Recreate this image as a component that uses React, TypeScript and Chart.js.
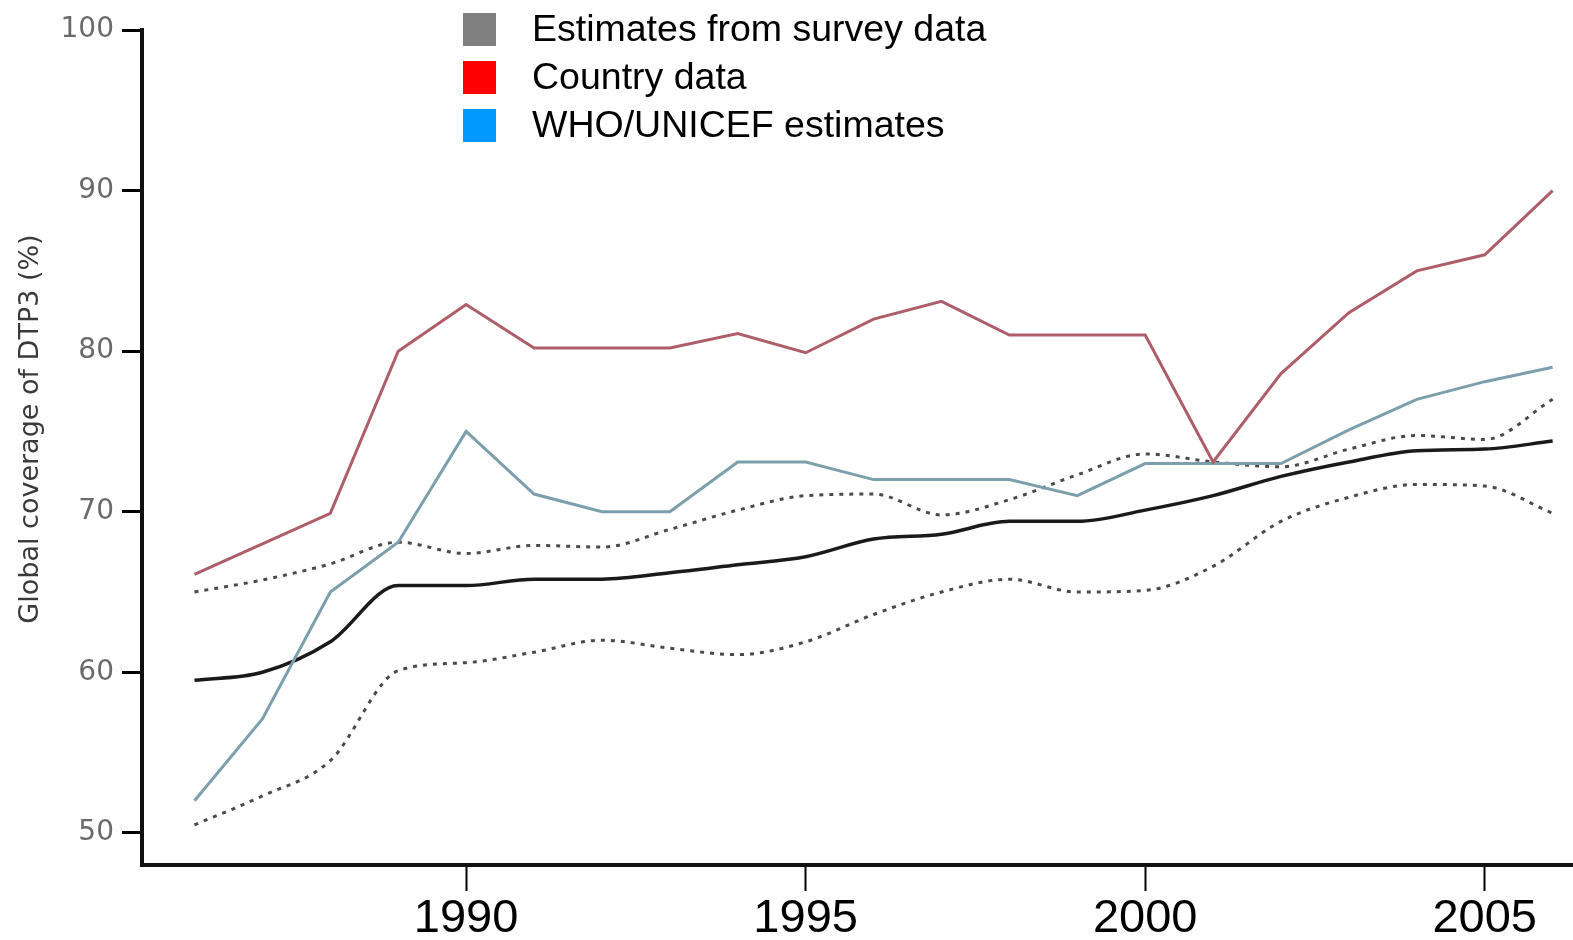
import React, { useEffect, useRef } from "react";
import { Chart, registerables } from "chart.js";

Chart.register(...registerables);

const years = [1986, 1987, 1988, 1989, 1990, 1991, 1992, 1993, 1994, 1995, 1996, 1997, 1998, 1999, 2000, 2001, 2002, 2003, 2004, 2005, 2006];
const countryData = [66.1, 68, 69.9, 80, 82.9, 80.2, 80.2, 80.2, 81.1, 79.9, 82, 83.1, 81, 81, 81, 73.1, 78.6, 82.4, 85, 86, 90];
const whoUnicefEstimates = [52, 57.1, 65, 68.1, 75, 71.1, 70, 70, 73.1, 73.1, 72, 72, 72, 71, 73, 73, 73, 75.1, 77, 78.1, 79];
const surveyEstimates = [59.5, 60, 61.9, 65.4, 65.4, 65.8, 65.8, 66.2, 66.7, 67.2, 68.3, 68.6, 69.4, 69.4, 70.1, 71, 72.2, 73.1, 73.8, 73.9, 74.4];
const surveyUpper = [65, 65.75, 66.75, 68.1, 67.4, 67.9, 67.8, 68.9, 70.1, 71, 71.1, 69.8, 70.75, 72.3, 73.6, 73.1, 72.8, 73.9, 74.75, 74.5, 77];
const surveyLower = [50.5, 52.3, 54.5, 60.1, 60.6, 61.25, 62, 61.5, 61.1, 61.9, 63.6, 65, 65.8, 65, 65.1, 66.6, 69.4, 70.9, 71.7, 71.6, 69.9];
const xTickYears = [1990, 1995, 2000, 2005];
const yTickValues = [50, 60, 70, 80, 90, 100];
const legendLabels = ["Estimates from survey data", "Country data", "WHO/UNICEF estimates"];
const legendColors = ["#808080", "#ff0000", "#0099ff"];
const yAxisTitle = "Global coverage of DTP3 (%)";

const toPoints = (vals: number[]) => vals.map((v, i) => ({ x: years[i], y: v }));

export default function App() {
  const canvasRef = useRef<HTMLCanvasElement | null>(null);

  useEffect(() => {
    document.body.style.margin = "0";
    const canvas = canvasRef.current;
    if (!canvas) return;

    const overlayPlugin = {
      id: "overlay",
      afterDraw(chart: any) {
        const ctx = chart.ctx;
        ctx.save();
        legendLabels.forEach((label, i) => {
          const top = 13 + i * 48;
          ctx.fillStyle = legendColors[i];
          ctx.fillRect(463, top, 33, 33);
          ctx.fillStyle = "#000";
          ctx.font = "37.5px 'Liberation Sans', Arial, sans-serif";
          ctx.textBaseline = "middle";
          ctx.textAlign = "left";
          ctx.fillText(label, 532, top + 18);
        });
        ctx.translate(31, 429);
        ctx.rotate(-Math.PI / 2);
        ctx.fillStyle = "#3a3a3a";
        ctx.font = "27px 'DejaVu Sans', sans-serif";
        ctx.textAlign = "center";
        ctx.textBaseline = "middle";
        ctx.fillText(yAxisTitle, 0, 0);
        ctx.restore();
      },
    };

    const chart = new Chart(canvas, {
      type: "line",
      data: {
        datasets: [
          {
            label: "Country data",
            data: toPoints(countryData),
            borderColor: "#ad5e69",
            borderWidth: 3,
            pointRadius: 0,
            tension: 0,
          },
          {
            label: "WHO/UNICEF estimates",
            data: toPoints(whoUnicefEstimates),
            borderColor: "#7c9fad",
            borderWidth: 3,
            pointRadius: 0,
            tension: 0,
          },
          {
            label: "Survey upper",
            data: toPoints(surveyUpper),
            borderColor: "#4a4a4a",
            borderWidth: 3,
            borderDash: [4, 6],
            pointRadius: 0,
            cubicInterpolationMode: "monotone",
          },
          {
            label: "Survey lower",
            data: toPoints(surveyLower),
            borderColor: "#4a4a4a",
            borderWidth: 3,
            borderDash: [4, 6],
            pointRadius: 0,
            cubicInterpolationMode: "monotone",
          },
          {
            label: "Estimates from survey data",
            data: toPoints(surveyEstimates),
            borderColor: "#1a1a1a",
            borderWidth: 3.5,
            pointRadius: 0,
            cubicInterpolationMode: "monotone",
          },
        ],
      },
      options: {
        animation: false,
        responsive: true,
        maintainAspectRatio: false,
        layout: { padding: { top: 30, right: 0, left: 0, bottom: 0 } },
        plugins: {
          legend: { display: false },
          tooltip: { enabled: false },
        },
        scales: {
          x: {
            type: "linear",
            min: 1985.227,
            max: 2006.3,
            afterBuildTicks: (scale: any) => {
              scale.ticks = xTickYears.map((v) => ({ value: v }));
            },
            afterFit: (scale: any) => {
              scale.height = 75;
            },
            ticks: {
              autoSkip: false,
              maxRotation: 0,
              color: "#000",
              padding: 0,
              font: { family: "'Liberation Sans', Arial, sans-serif", size: 47 },
              callback: (v: any) => String(v),
            },
            grid: {
              drawOnChartArea: false,
              drawTicks: true,
              tickLength: 26,
              tickWidth: 2,
              tickColor: "#000",
            },
            border: { color: "#111", width: 4 },
          },
          y: {
            type: "linear",
            min: 48,
            max: 100,
            afterBuildTicks: (scale: any) => {
              scale.ticks = yTickValues.map((v) => ({ value: v }));
            },
            afterFit: (scale: any) => {
              scale.width = 142;
            },
            ticks: {
              autoSkip: false,
              color: "#6a6a6a",
              padding: 8,
              font: { family: "'DejaVu Sans', sans-serif", size: 28 },
            },
            grid: {
              drawOnChartArea: false,
              drawTicks: true,
              tickLength: 20,
              tickWidth: 3,
              tickColor: "#000",
            },
            border: { color: "#111", width: 4 },
          },
        },
      },
      plugins: [overlayPlugin],
    } as any);

    return () => chart.destroy();
  }, []);

  return (
    <div style={{ width: 1573, height: 940, position: "relative" }}>
      <canvas ref={canvasRef} />
    </div>
  );
}
